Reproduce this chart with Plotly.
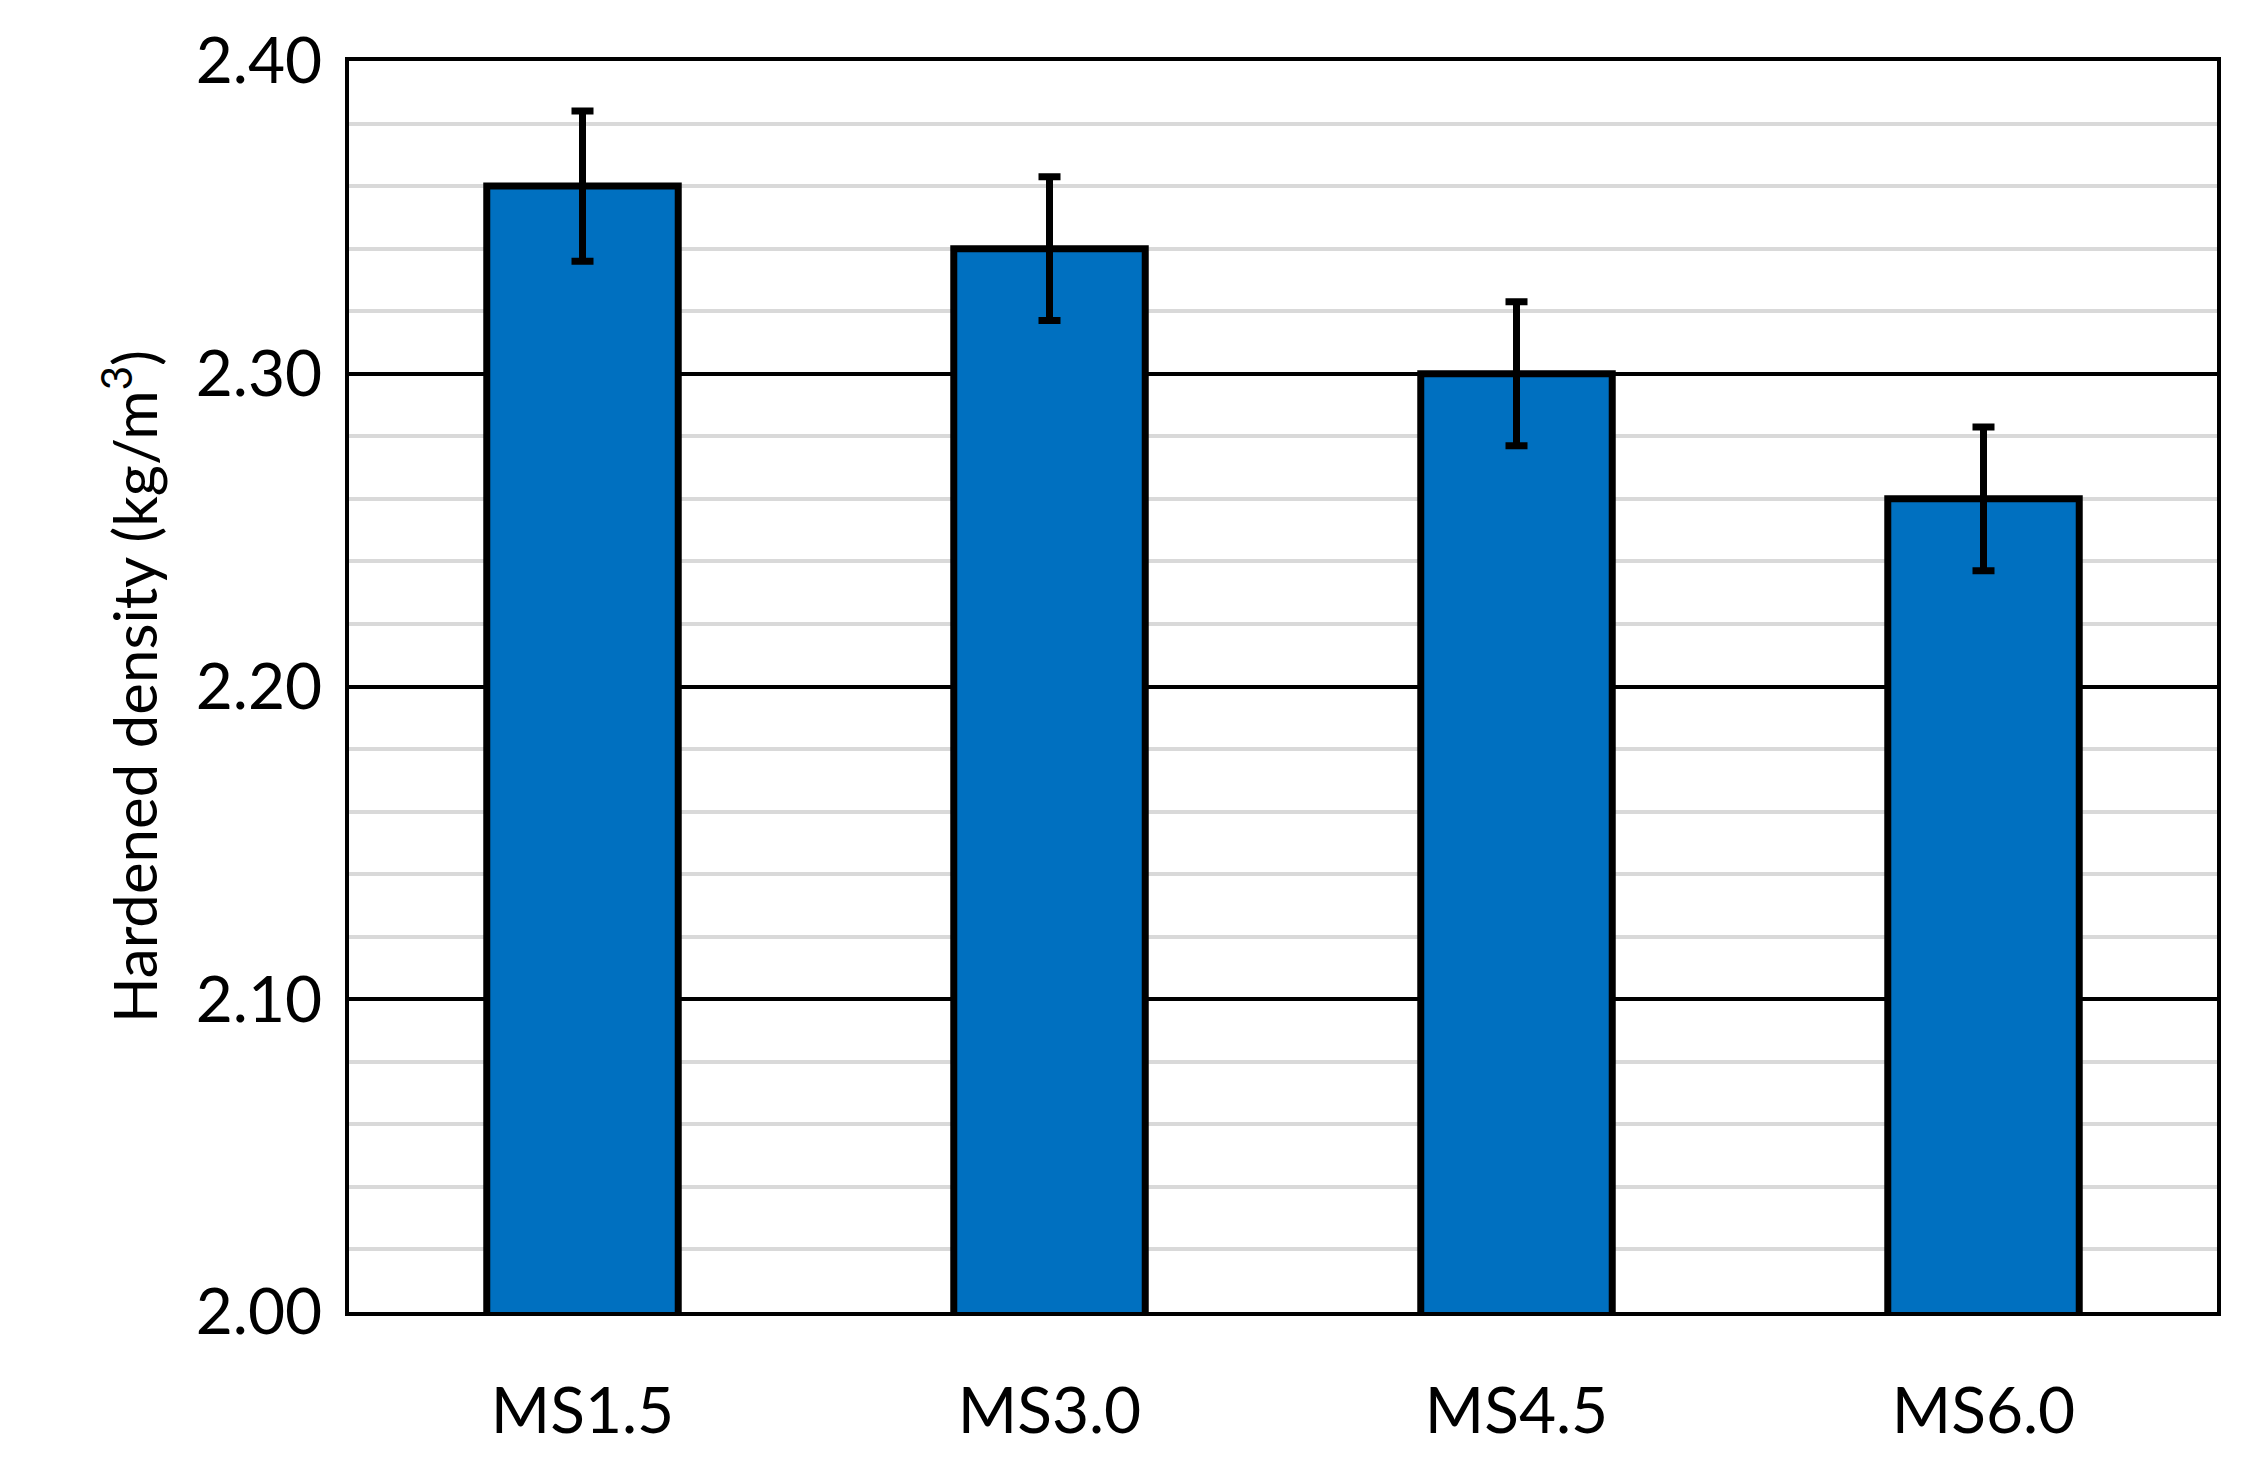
import plotly.graph_objects as go

categories = ["MS1.5", "MS3.0", "MS4.5", "MS6.0"]
values = [2.36, 2.34, 2.30, 2.26]
errors = [0.024, 0.023, 0.023, 0.023]

fig = go.Figure(go.Bar(
    x=categories, y=values, width=0.41,
    marker=dict(color="#0070C0", line=dict(color="black", width=7)),
    error_y=dict(type="data", array=errors, color="black", thickness=7, width=11),
))
font = dict(family="Lato, Open Sans, sans-serif", size=64, color="black")
fig.update_layout(
    width=2255, height=1476, plot_bgcolor="white", paper_bgcolor="white",
    margin=dict(l=341, r=46, t=48, b=172), showlegend=False, font=font,
)
fig.update_yaxes(
    range=[2.0, 2.4], tickvals=[2.0, 2.1, 2.2, 2.3, 2.4], tickformat=".2f",
    showgrid=True, gridcolor="black", gridwidth=4,
    minor=dict(dtick=0.02, showgrid=True, gridcolor="#D9D9D9", gridwidth=4),
    showline=True, linecolor="black", linewidth=4, mirror=True, ticks="",
    ticklabelstandoff=10,
    title=dict(text="Hardened density (kg/m<sup>3</sup>)", standoff=20, font=dict(size=60)),
    zeroline=False,
)
fig.update_xaxes(showline=True, linecolor="black", linewidth=4, mirror=True, ticks="",
                 ticklabelstandoff=40)
fig.write_html("out.html")
